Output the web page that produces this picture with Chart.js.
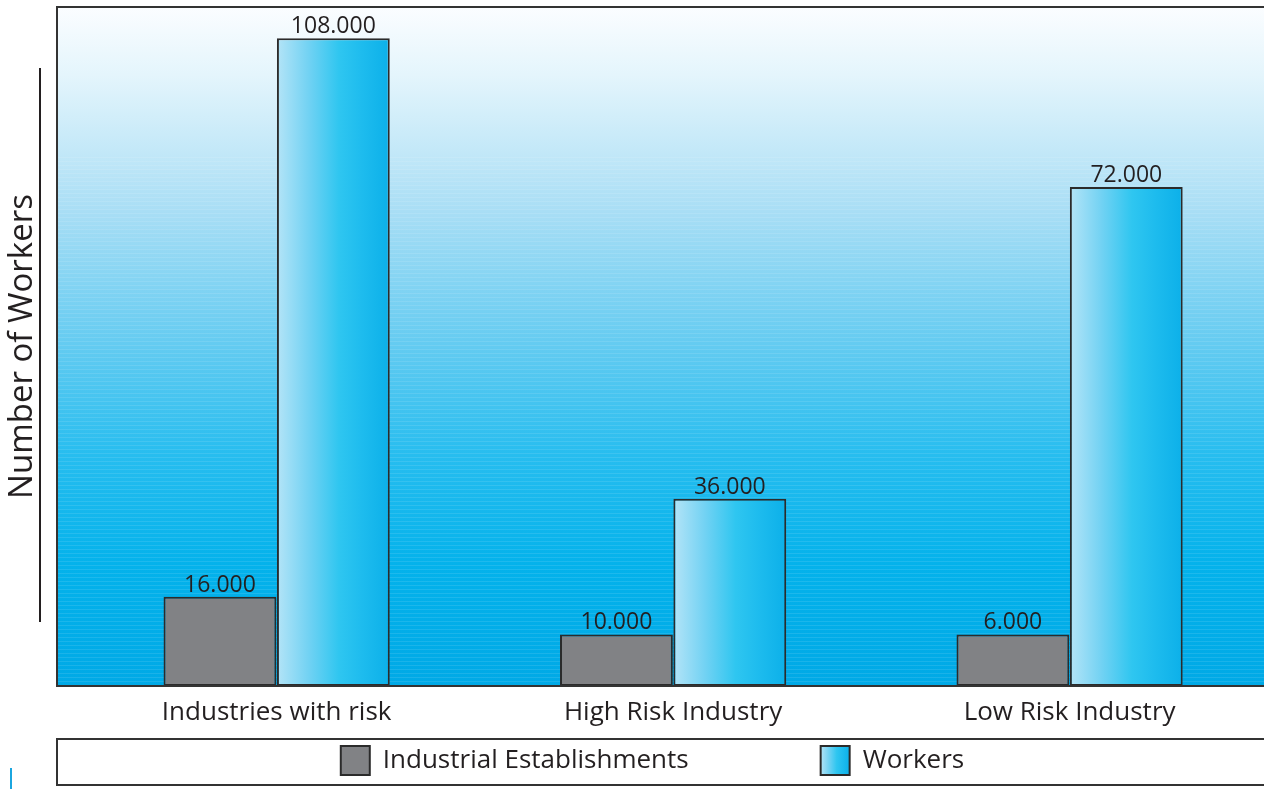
<!DOCTYPE html>
<html>
<head>
<meta charset="utf-8">
<script src="https://cdn.jsdelivr.net/npm/chart.js@4.4.1/dist/chart.umd.min.js"></script>
<style>
  html, body { margin: 0; padding: 0; background: #ffffff; overflow: hidden; }
  #c { display: block; }
</style>
</head>
<body>
<canvas id="c" width="1264" height="789"></canvas>
<script>
// ---- data -------------------------------------------------------------
const categories = ['Industries with risk', 'High Risk Industry', 'Low Risk Industry'];
const seriesNames = ['Industrial Establishments', 'Workers'];
// values printed above the bars
const establishments = [16000, 10000, 6000];
const workers = [108000, 36000, 72000];
// bar heights as drawn in the picture (thousands; the drawing is not to scale)
const establishmentsBarHeights = [14.9, 8.6, 8.6];
const workersBarHeights = [108, 31.2, 83.2];
const yAxisTitle = 'Number of Workers';

// ---- styles -----------------------------------------------------------
const FONT = "'Open Sans', 'Noto Sans', sans-serif";
const TEXT = '#231f20';
const EDGE = '#2b2b2b';
const GREY = '#818285';

const fmt = v => String(v).replace(/\B(?=(\d{3})+(?!\d))/g, '.');

function cyanGradient(ctx, x0, x1) {
  const g = ctx.createLinearGradient(x0, 0, x1, 0);
  g.addColorStop(0, '#b4e4f7');
  g.addColorStop(0.28, '#72d2f3');
  g.addColorStop(0.55, '#2fc6f0');
  g.addColorStop(0.75, '#1ebcee');
  g.addColorStop(1, '#0cb0e9');
  return g;
}

const decor = {
  id: 'decor',
  afterLayout(chart) {
    const lg = chart.legend;
    chart.$frame = { top: lg.top, bottom: lg.bottom };
    // items sit 7px below the frame top while the horizontal gap uses labels.padding
    lg.top = lg.top + 7 - lg.options.labels.padding;
  },
  beforeDraw(chart) {
    const { ctx, chartArea: a } = chart;
    const right = chart.width;
    ctx.save();
    const g = ctx.createLinearGradient(0, a.top, 0, a.bottom);
    g.addColorStop(0, '#fbfdff');
    g.addColorStop(0.1, '#e4f5fc');
    g.addColorStop(0.3, '#a9def5');
    g.addColorStop(0.5, '#63cbf1');
    g.addColorStop(0.66, '#27bdef');
    g.addColorStop(0.82, '#04b2eb');
    g.addColorStop(1, '#00a9e6');
    ctx.fillStyle = g;
    ctx.fillRect(a.left, a.top, right - a.left, a.bottom - a.top);
    ctx.fillStyle = 'rgba(255,255,255,0.10)';
    for (let y = a.top + 150; y < a.bottom; y += 4) ctx.fillRect(a.left, y, right - a.left, 1);
    ctx.restore();
    // gradient swatch for the Workers legend entry
    const lg = chart.legend;
    if (lg && lg.legendItems && lg.legendHitBoxes[1]) {
      const hb = lg.legendHitBoxes[1];
      lg.legendItems[1].fillStyle = cyanGradient(ctx, hb.left, hb.left + lg.options.labels.boxWidth);
    }
  },
  beforeDatasetsDraw(chart) {
    const meta = chart.getDatasetMeta(1);
    meta.data.forEach(el => {
      const g = cyanGradient(chart.ctx, el.x - el.width / 2, el.x + el.width / 2);
      el.options = Object.assign({}, el.options, { backgroundColor: g });
    });
  },
  afterDatasetsDraw(chart) {
    const { ctx, chartArea: a } = chart;
    const right = chart.width;
    ctx.save();
    // panel frame (open on the right, runs off the page)
    ctx.strokeStyle = '#333333';
    ctx.lineWidth = 2;
    ctx.beginPath();
    ctx.moveTo(right + 2, a.top);
    ctx.lineTo(a.left, a.top);
    ctx.lineTo(a.left, a.bottom);
    ctx.lineTo(right + 2, a.bottom);
    ctx.stroke();
    // value labels
    const labelSets = [establishments, workers];
    ctx.fillStyle = TEXT;
    ctx.font = '23px ' + FONT;
    ctx.textAlign = 'center';
    ctx.textBaseline = 'alphabetic';
    labelSets.forEach((vals, di) => {
      chart.getDatasetMeta(di).data.forEach((el, i) => {
        ctx.fillText(fmt(vals[i]), el.x, el.y - 5);
      });
    });
    ctx.restore();
  },
  afterDraw(chart) {
    const { ctx, chartArea: a } = chart;
    const f = chart.$frame;
    ctx.save();
    // legend frame
    ctx.strokeStyle = '#333333';
    ctx.lineWidth = 2;
    ctx.beginPath();
    ctx.moveTo(chart.width + 2, f.top);
    ctx.lineTo(a.left, f.top);
    ctx.lineTo(a.left, f.bottom);
    ctx.lineTo(chart.width + 2, f.bottom);
    ctx.stroke();
    // rule beside the axis title
    ctx.strokeStyle = TEXT;
    ctx.beginPath();
    ctx.moveTo(a.left - 17, a.top + 61);
    ctx.lineTo(a.left - 17, a.bottom - 64);
    ctx.stroke();
    // small blue mark bottom-left
    ctx.fillStyle = '#1ba6df';
    ctx.fillRect(10, f.top + 29, 2, chart.height - f.top - 29);
    ctx.restore();
  }
};

new Chart(document.getElementById('c'), {
  type: 'bar',
  data: {
    datasets: [
      {
        label: seriesNames[0],
        data: establishmentsBarHeights.map((v, i) => ({ x: i, y: v })),
        backgroundColor: GREY,
        borderColor: EDGE,
        borderWidth: 2,
        borderSkipped: false
      },
      {
        label: seriesNames[1],
        data: workersBarHeights.map((v, i) => ({ x: i, y: v })),
        backgroundColor: '#2fc6f0',
        borderColor: EDGE,
        borderWidth: 2,
        borderSkipped: false
      }
    ]
  },
  options: {
    responsive: false,
    animation: false,
    devicePixelRatio: 1,
    categoryPercentage: 0.572,
    barPercentage: 0.995,
    layout: { padding: { left: 0, right: 16, top: 7, bottom: 4 } },
    plugins: {
      tooltip: { enabled: false },
      legend: {
        position: 'bottom',
        fullSize: false,
        maxHeight: 46,
        labels: {
          boxWidth: 29,
          boxHeight: 29,
          padding: 132,
          color: TEXT,
          font: { family: FONT, size: 26 }
        }
      }
    },
    scales: {
      x: {
        type: 'linear',
        offset: false,
        min: -0.554,
        max: 2.45,
        grid: { display: false, drawTicks: false },
        border: { display: false },
        ticks: {
          stepSize: 1,
          includeBounds: false,
          autoSkip: false,
          maxRotation: 0,
          padding: 11,
          color: TEXT,
          font: { family: FONT, size: 26 },
          callback: v => (Number.isInteger(v) && categories[v] !== undefined) ? categories[v] : ''
        },
        afterFit: s => { s.height = 53; }
      },
      y: {
        min: 0,
        max: 113.2,
        grid: { display: false, drawTicks: false },
        border: { display: false },
        ticks: { display: false },
        title: {
          display: true,
          text: yAxisTitle,
          color: TEXT,
          font: { family: FONT, size: 33 },
          padding: { top: 3, bottom: 0 }
        },
        afterFit: s => { s.width = 57; }
      }
    }
  },
  plugins: [decor]
});
</script>
</body>
</html>
